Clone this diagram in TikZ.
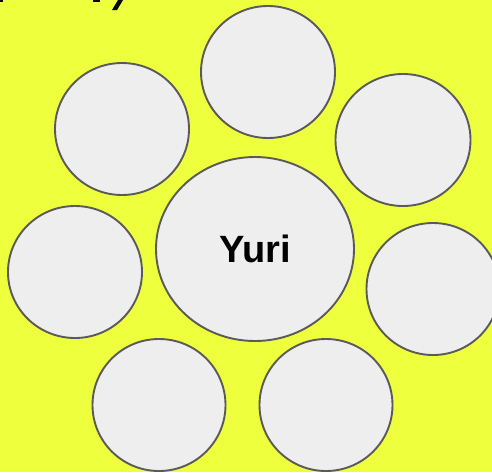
\documentclass[tikz,border=0pt]{standalone}
\usepackage{fontspec}
\setmainfont{Liberation Sans}
\usetikzlibrary{shapes.geometric}
\definecolor{bgyellow}{RGB}{238,255,62}
\definecolor{circfill}{RGB}{238,238,238}
\definecolor{circline}{RGB}{90,90,90}
\begin{document}
\begin{tikzpicture}[x=1pt,y=-1pt,
  bubble/.style={ellipse, draw=circline, fill=circfill, line width=1.9pt, inner sep=0pt},
  ]
\fill[bgyellow] (0,0) rectangle (492,472);
\useasboundingbox (0,0) rectangle (492,472);
\begin{scope}
\clip (0,0) rectangle (492,472);
% cut-off title fragments
\fill[black] (0,0) rectangle (3,1.5);
\fill[black] (93,0) rectangle (100,1.5);
\fill[black] (118,0) -- (123,0) -- (117,10) -- (112,10) -- cycle;
\node[bubble, minimum width=134pt, minimum height=132pt] (top) at (268,72) {};
\node[bubble, minimum width=134pt, minimum height=132pt] (ul) at (122,129) {};
\node[bubble, minimum width=135pt, minimum height=132pt] (ur) at (403,140) {};
\node[bubble, minimum width=134pt, minimum height=132pt] (l) at (75,272) {};
\node[bubble, minimum width=133pt, minimum height=132pt] (r) at (433,289) {};
\node[bubble, minimum width=133pt, minimum height=132pt] (bl) at (159,405) {};
\node[bubble, minimum width=133pt, minimum height=132pt] (br) at (326,405) {};
\node[bubble, minimum width=198pt, minimum height=184pt, font=\fontsize{38}{40}\selectfont\bfseries] (c) at (255,249) {Yuri};
\end{scope}
\end{tikzpicture}
\end{document}
